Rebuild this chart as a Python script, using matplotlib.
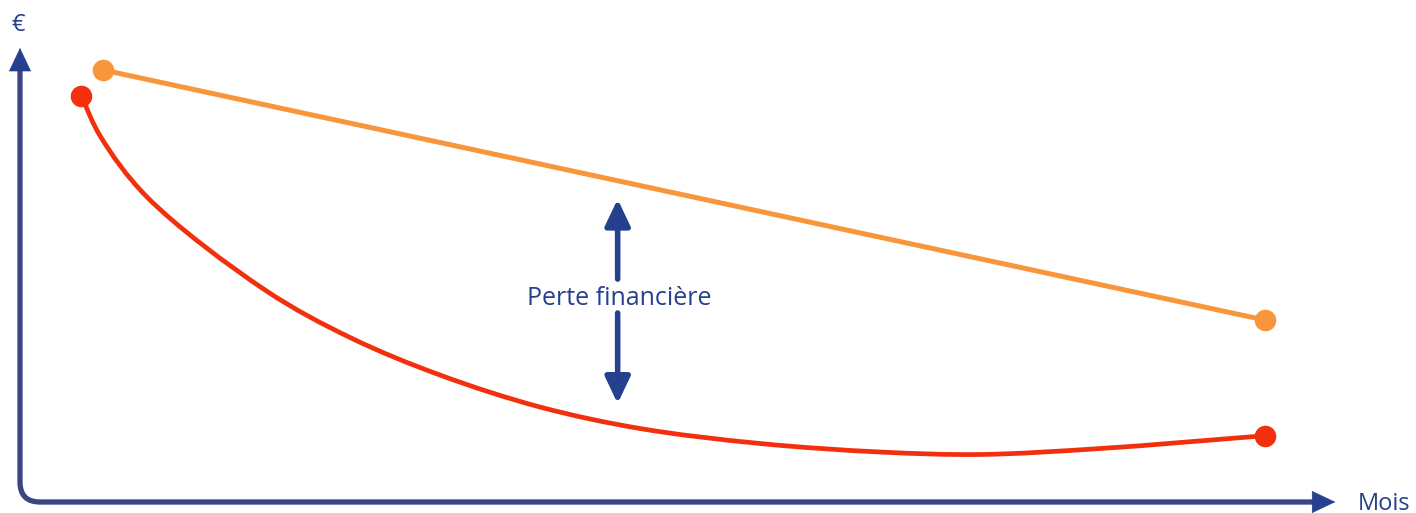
import matplotlib
matplotlib.use("Agg")
import numpy as np
import matplotlib.pyplot as plt
from matplotlib.path import Path
from matplotlib.patches import PathPatch
from matplotlib.transforms import IdentityTransform

# ---- data (months, euros; arbitrary units) ----
orange_x = [1.67, 25.0]
orange_y = [100.0, 42.1]

red_x = [1.23, 1.61, 2.55, 4.92, 6.63, 8.43, 10.44, 12.45, 14.86,
         17.27, 19.28, 21.69, 25.0]
red_y = [93.98, 84.72, 70.60, 49.07, 38.06, 29.40, 21.99, 17.01,
         13.54, 11.57, 11.00, 12.38, 15.35]

loss_x = 12.0
loss_top = 70.1
loss_bottom = 22.8
loss_label = "Perte financière"
x_label = "Mois"
y_label = "€"

ORANGE = "#F7963A"
RED = "#F2300E"
NAVY = "#24408E"
AXIS = "#3C4584"

FONT = ["Open Sans", "DejaVu Sans"]

fig = plt.figure(figsize=(14.16, 5.13), dpi=100)
ax = fig.add_axes([0, 0, 1, 1])
ax.set_xlim(-0.4016, 28.03)
ax.set_ylim(-2.546, 116.2)
ax.axis("off")


def smooth_path(xs, ys, alpha=0.5):
    """Centripetal Catmull-Rom through the given points, as a Bezier path
    in display coordinates (drawing only; passes through every point)."""
    pts = ax.transData.transform(np.column_stack([xs, ys]))
    P = np.vstack([2 * pts[0] - pts[1], pts, 2 * pts[-1] - pts[-2]])
    verts = [tuple(P[1])]
    codes = [Path.MOVETO]
    for i in range(1, len(P) - 2):
        p0, p1, p2, p3 = P[i - 1], P[i], P[i + 1], P[i + 2]
        d1 = max(np.linalg.norm(p1 - p0) ** alpha, 1e-6)
        d2 = max(np.linalg.norm(p2 - p1) ** alpha, 1e-6)
        d3 = max(np.linalg.norm(p3 - p2) ** alpha, 1e-6)
        b1 = (d1 ** 2 * p2 - d2 ** 2 * p0
              + (2 * d1 ** 2 + 3 * d1 * d2 + d2 ** 2) * p1) / (3 * d1 * (d1 + d2))
        b2 = (d3 ** 2 * p1 - d2 ** 2 * p3
              + (2 * d3 ** 2 + 3 * d3 * d2 + d2 ** 2) * p2) / (3 * d3 * (d3 + d2))
        verts += [tuple(b1), tuple(b2), tuple(p2)]
        codes += [Path.CURVE4] * 3
    return Path(verts, codes)


# ---- axes with rounded corner ----
rx, ry = 0.40, 4.63
verts = [(0, 100.0), (0, ry), (0, 0), (rx, 0), (26.0, 0)]
codes = [Path.MOVETO, Path.LINETO, Path.CURVE3, Path.CURVE3, Path.LINETO]
ax.add_patch(PathPatch(Path(verts, codes), fill=False, edgecolor=AXIS,
                       lw=3.8, capstyle="butt", joinstyle="round"))

head = "-|>,head_length=0.8,head_width=0.38"
ax.annotate("", xy=(0, 105.1), xytext=(0, 99.9),
            arrowprops=dict(arrowstyle=head, mutation_scale=20, color=NAVY,
                            lw=0.5, shrinkA=0, shrinkB=0))
ax.annotate("", xy=(26.41, 0), xytext=(25.99, 0),
            arrowprops=dict(arrowstyle=head, mutation_scale=20, color=NAVY,
                            lw=0.5, shrinkA=0, shrinkB=0))

ax.text(-0.03, 110.4, y_label, color=NAVY, fontsize=17, family=FONT,
        ha="center", va="center")
ax.text(26.86, -0.4, x_label, color=NAVY, fontsize=17, family=FONT,
        ha="left", va="center")

# ---- series ----
ax.plot(orange_x, orange_y, color=ORANGE, lw=3.6, solid_capstyle="round",
        zorder=3)
ax.plot([orange_x[0], orange_x[-1]], [orange_y[0], orange_y[-1]], "o",
        color=ORANGE, ms=14.5, zorder=4)
ax.add_patch(PathPatch(smooth_path(red_x, red_y), fill=False, edgecolor=RED,
                       lw=3.4, capstyle="round", transform=IdentityTransform(),
                       zorder=3))
ax.plot([red_x[0], red_x[-1]], [red_y[0], red_y[-1]], "o",
        color=RED, ms=14.5, zorder=4)

# ---- loss annotation ----
ax.annotate("", xy=(loss_x, loss_top), xytext=(loss_x, 51.6),
            arrowprops=dict(arrowstyle=head, mutation_scale=20, color=NAVY,
                            lw=4.0, shrinkA=0, shrinkB=0))
ax.annotate("", xy=(loss_x, loss_bottom), xytext=(loss_x, 43.75),
            arrowprops=dict(arrowstyle=head, mutation_scale=20, color=NAVY,
                            lw=4.0, shrinkA=0, shrinkB=0))
ax.text(loss_x + 0.03, 47.2, loss_label, color=NAVY, fontsize=18,
        family=FONT, ha="center", va="center")

fig.savefig("out.png", dpi=100)
